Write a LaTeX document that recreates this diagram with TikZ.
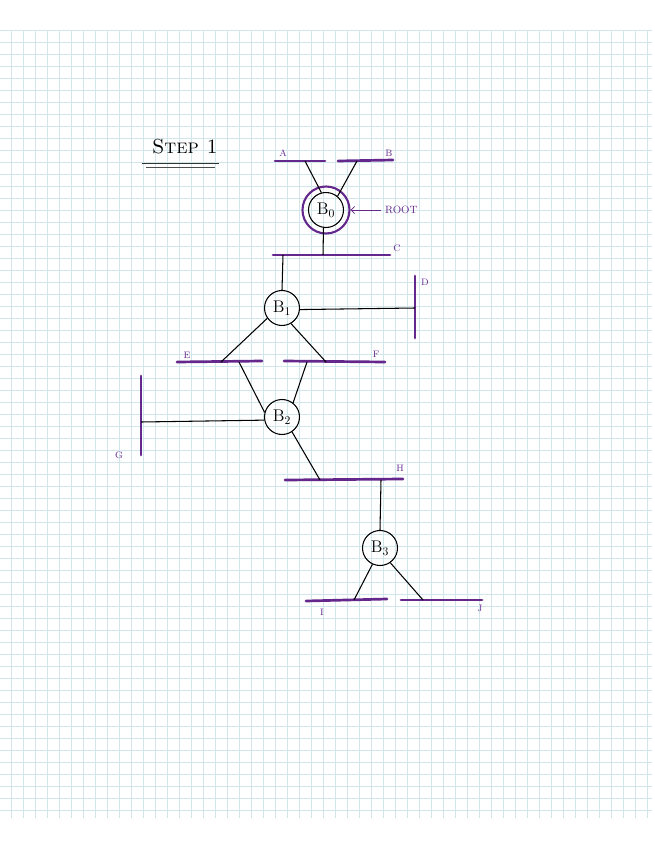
\documentclass[tikz,border=0pt]{standalone}
\usepackage{xcolor}
\usepackage{tikz}
\usetikzlibrary{arrows.meta}
\definecolor{busviolet}{RGB}{100,40,140}
\definecolor{paperblue}{RGB}{208,230,235}
\tikzset{
  bus/.style={draw=busviolet, line width=2.3pt, line cap=round},
  wire/.style={draw=black, line width=0.9pt},
  bnode/.style={circle, draw, line width=0.9pt, minimum size=1.05cm, inner sep=0pt, font=\Large},
  buslabel/.style={text=busviolet, font=\footnotesize},
}

\begin{document}
\begin{tikzpicture}[x=0.03cm, y=-0.03cm]
\useasboundingbox (0,0) rectangle (655,848);
\fill[white] (0,0) rectangle (655,848);
\draw[paperblue, line width=0.8pt, shift={(11,6)}, step=0.36cm] (-11,24) grid (641,812);

\node[font=\LARGE] (title) at (185,147) {\textsc{Step 1}};
\draw[line width=0.8pt, black!80] (142,163) -- (219,163);
\draw[line width=0.5pt, black!70] (146,167) -- (215,167);

\coordinate (a1) at (275,161); \coordinate (a2) at (325,161);
\coordinate (bb1) at (338,161); \coordinate (bb2) at (393,160);
\draw[bus] (a1) -- (a2);
\draw[bus] (bb1) -- (bb2);
\node[buslabel] (la) at (283,153) {A};
\node[buslabel] (lb) at (389,153) {B};

\node[bnode] (b0) at (326,210) {B$_0$};
\node[circle, draw=busviolet, line width=1.8pt, minimum size=1.41cm] (ring) at (b0) {};
\node[buslabel, font=\small, anchor=west] (root) at (381,210) {ROOT};
\draw[busviolet, line width=0.7pt, -{Straight Barb[length=3pt]}] (root) -- (ring);
\coordinate (ax) at (305,161); \coordinate (bx) at (357,161);
\draw[wire] (ax) -- (b0.105);
\draw[wire] (bx) -- (b0.50);

\coordinate (c1) at (273,255); \coordinate (c2) at (390,255);
\draw[bus] (c1) -- (c2);
\node[buslabel] (lc) at (397,248) {C};
\coordinate (c0) at (323,255);
\draw[wire] (b0.262) -- (c0);

\node[bnode] (b1) at (282,308) {B$_1$};
\coordinate (cx) at (283,255);
\draw[wire] (cx) -- (b1.north);

\coordinate (d1) at (415,276); \coordinate (d2) at (415,338);
\draw[bus] (d1) -- (d2);
\node[buslabel] (ld) at (425,282) {D};
\coordinate (d0) at (415,308);
\draw[wire] (b1.355) -- (d0);

\coordinate (e1) at (177,362); \coordinate (e2) at (262,361);
\coordinate (f1) at (284,361); \coordinate (f2) at (385,362);
\draw[bus] (e1) -- (e2);
\draw[bus] (f1) -- (f2);
\node[buslabel] (le) at (187,355) {E};
\node[buslabel] (lf) at (376,354) {F};
\coordinate (ex) at (221,362); \coordinate (fx) at (326,362);
\draw[wire] (b1.215) -- (ex);
\draw[wire] (b1.300) -- (fx);

\node[bnode] (b2) at (282,417) {B$_2$};
\coordinate (ey) at (239,362); \coordinate (fy) at (307,362);
\draw[wire] (ey) -- (b2.165);
\draw[wire] (fy) -- (b2.52);

\coordinate (g1) at (141,376); \coordinate (g2) at (141,455);
\draw[bus] (g1) -- (g2);
\node[buslabel] (lg) at (119,455) {G};
\coordinate (g0) at (141,422);
\draw[wire] (g0) -- (b2.190);

\coordinate (h1) at (285,480); \coordinate (h2) at (403,479);
\draw[bus] (h1) -- (h2);
\node[buslabel] (lh) at (400,468) {H};
\coordinate (hx) at (320,480);
\draw[wire] (b2.304) -- (hx);

\node[bnode] (b3) at (380,548) {B$_3$};
\coordinate (hy) at (381,480);
\draw[wire] (hy) -- (b3.north);

\coordinate (i1) at (306,601); \coordinate (i2) at (387,599);
\coordinate (j1) at (401,600); \coordinate (j2) at (482,600);
\draw[bus] (i1) -- (i2);
\draw[bus] (j1) -- (j2);
\node[buslabel] (li) at (322,612) {I};
\node[buslabel] (lj) at (480,608) {J};
\coordinate (ix) at (354,600); \coordinate (jx) at (423,600);
\draw[wire] (b3.245) -- (ix);
\draw[wire] (b3.305) -- (jx);
\end{tikzpicture}
\end{document}
